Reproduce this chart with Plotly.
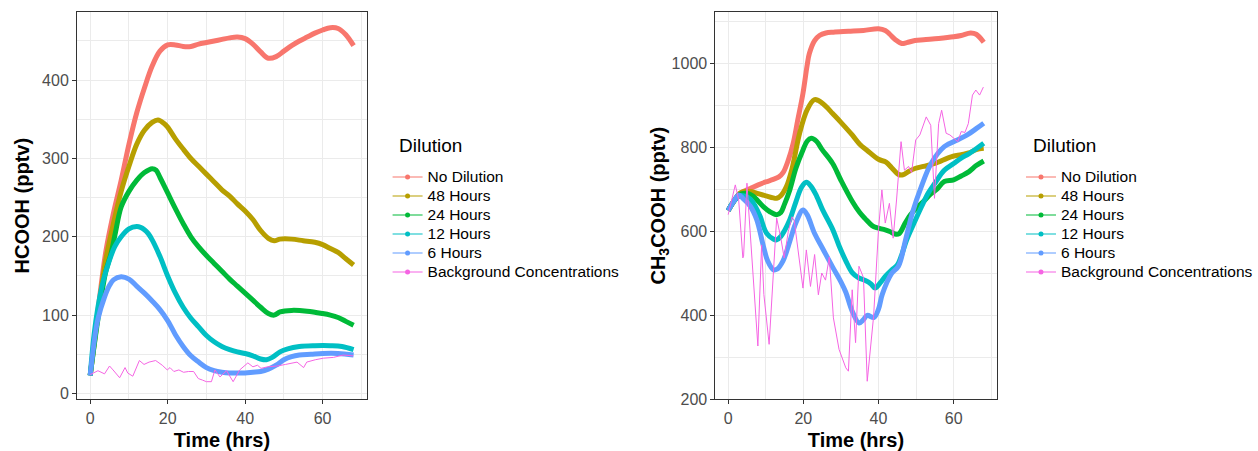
import plotly.graph_objects as go

# ---------------- DATA ----------------
SERIES = ["No Dilution", "48 Hours", "24 Hours", "12 Hours", "6 Hours", "Background Concentrations"]
COLORS = ["#F8766D", "#B79F00", "#00BA38", "#00BFC4", "#619CFF", "#F564E3"]
LEGEND_TITLE = "Dilution"

# HCOOH panel
hc_nodil_t = [0, 2, 4, 6, 8, 10, 12, 14, 16, 18, 20, 22, 24, 26, 28, 30, 32, 34, 36, 38, 40, 42, 44, 46, 48, 50, 52, 54, 56, 58, 60, 62, 64, 66, 68]
hc_nodil_v = [23, 105, 180, 230, 272, 318, 358, 390, 418, 437, 445, 445, 443, 443, 446, 448, 450, 452, 454, 455, 453, 446, 436, 428, 430, 437, 444, 450, 455, 460, 464, 467, 466, 458, 444]

hc_48_t = [0, 2, 4, 6, 8, 10, 12, 14, 16, 17.5, 19, 20, 22, 24, 26, 28, 30, 32, 34, 36, 38, 40, 42, 44, 46, 47.5, 49, 52, 55, 58, 60, 62, 64, 66, 68]
hc_48_v = [23, 100, 170, 217, 258, 290, 318, 336, 346, 349, 345, 340, 325, 312, 300, 290, 280, 270, 260, 252, 242, 233, 222, 208, 198, 195, 197, 197, 195, 193, 190, 185, 180, 172, 164]

hc_24_t = [0, 2, 4, 5.4, 6.5, 8, 10, 12, 14, 16, 17, 18, 20, 22, 24, 26, 28, 30, 32, 34, 36, 38, 40, 42, 44, 46, 47.5, 49, 52, 56, 60, 62, 64, 66, 68]
hc_24_v = [23, 95, 155, 179, 205, 238, 258, 272, 282, 287, 285, 276, 256, 236, 217, 200, 187, 176, 166, 156, 146, 137, 128, 119, 110, 102, 100, 104, 106, 105, 102, 100, 97, 92, 87]

hc_12_t = [0, 1, 2, 3, 4, 6.3, 8, 10, 12, 13, 14, 15, 16, 18, 20, 22, 24, 26, 28, 30, 32, 34, 36, 38, 40, 42, 44, 45.5, 47, 49, 51, 54, 58, 62, 65, 68]
hc_12_v = [23, 75, 110, 136, 155, 187, 200, 210, 213, 212, 209, 204, 196, 175, 150, 128, 110, 96, 85, 74, 66, 60, 56, 53, 51, 48, 44, 43, 46, 53, 57, 60, 61, 61, 60, 56]

hc_6_t = [0, 1.2, 2, 3.7, 5, 6, 8, 10, 12, 14, 16, 18, 20, 22, 24, 26, 28, 30, 32, 34, 36, 38, 40, 42, 44, 46, 48, 50, 52, 54, 57, 60, 64, 68]
hc_6_v = [23, 72, 95, 123, 138, 145, 149, 146, 137, 128, 118, 107, 93, 75, 60, 48, 40, 33, 29, 27, 26, 26, 26, 27, 28, 31, 36, 43, 47, 49, 50, 51, 51, 49]

hc_bg_t = [0, 2, 3.7, 5, 5.9, 7.6, 9, 9.7, 11, 12.7, 13.9, 15.2, 16.9, 18.6, 19.9, 20.6, 21.6, 22.9, 24.1, 25.4, 26.7, 27.9, 29, 30, 31.3, 32.2, 33.5, 35.2, 36.9, 38.6, 40.7, 42, 43.2, 44.1, 45.8, 48.3, 50.4, 53.4, 55.1, 55.9, 58.1, 60.2, 62.8, 65.3, 67.9]
hc_bg_v = [24, 29, 25, 35, 30, 20, 33, 26, 22, 42, 37, 40, 42, 36, 30, 33, 28, 30, 27, 28, 28, 19, 17, 15, 15, 30, 21, 29, 15, 30, 39, 34, 36, 32, 34, 35, 37, 40, 33, 40, 43, 45, 46, 49, 48]

# CH3COOH panel
ac_nodil_t = [0, 1.5, 3, 4.5, 6, 8, 10, 12, 13.5, 14.6, 16, 17.3, 18.5, 19.9, 21, 21.6, 23, 24.3, 26, 28, 32, 36, 40, 41.8, 43, 44.5, 46.2, 47.5, 49.7, 52, 56, 60, 62, 64.5, 66, 68]
ac_nodil_v = [650, 672, 690, 697, 703, 711, 718, 724, 730, 740, 770, 810, 865, 929, 995, 1024, 1055, 1067, 1073, 1075, 1077, 1079, 1083, 1079, 1070, 1057, 1048, 1050, 1055, 1057, 1060, 1064, 1067, 1073, 1070, 1051]

ac_48_t = [0, 1.5, 3, 4, 6, 8, 10, 12, 12.9, 14, 15.5, 17, 19, 21, 22.9, 24, 26, 27.8, 30, 33, 35, 37, 40, 42, 43.5, 45.3, 46.5, 48, 49.7, 52, 55, 59.3, 62, 64, 66, 68]
ac_48_v = [650, 672, 690, 695, 695, 690, 685, 680, 679, 685, 707, 750, 834, 890, 914, 912, 898, 881, 860, 830, 808, 793, 772, 765, 752, 736, 735, 743, 750, 755, 762, 778, 783, 787, 795, 798]

ac_24_t = [0, 1.5, 3, 5, 6.5, 8, 9.5, 11.1, 12.9, 14, 15, 16.4, 18, 19.9, 21, 22.1, 23.5, 25, 27.8, 30, 33, 35, 36.5, 38.3, 39.5, 41.8, 43, 44.4, 45.5, 47.1, 48.5, 50.5, 52, 54, 55.5, 57.5, 60, 62, 64, 66, 68]
ac_24_v = [650, 672, 688, 691, 685, 672, 658, 647, 640, 645, 665, 699, 750, 794, 815, 822, 815, 795, 762, 722, 672, 645, 630, 614, 609, 604, 600, 594, 595, 620, 640, 659, 672, 690, 700, 719, 723, 732, 742, 757, 768]

ac_12_t = [0, 1.5, 3, 4.5, 5.9, 7.2, 8.5, 10.2, 12, 12.9, 14, 15, 16.4, 18, 19.5, 20.8, 22, 23.5, 25.1, 27.8, 29.5, 31.3, 33, 34.8, 36.5, 38, 39.1, 40.5, 41.8, 43.5, 45, 46.2, 47.5, 49.7, 51.5, 53.2, 55, 57.5, 60, 62, 64, 66, 68]
ac_12_v = [650, 672, 685, 684, 677, 660, 636, 596, 582, 580, 588, 602, 628, 670, 705, 717, 708, 685, 652, 605, 566, 530, 502, 489, 483, 475, 465, 478, 493, 508, 520, 545, 580, 625, 660, 691, 715, 746, 762, 775, 785, 797, 810]

ac_6_t = [0, 1.5, 2.8, 4, 5.9, 7.6, 9.4, 10.5, 12, 13, 14.6, 16, 18, 19.9, 21, 23, 25.1, 27.8, 30, 31.3, 33, 34.8, 36, 37, 38.8, 40, 41, 43.5, 45.3, 47.2, 49, 51.4, 54, 57.5, 61, 63.6, 66, 68]
ac_6_v = [650, 672, 687, 678, 660, 628, 564, 530, 509, 510, 530, 565, 620, 651, 640, 595, 560, 515, 480, 455, 410, 382, 390, 400, 395, 415, 450, 500, 517, 580, 644, 707, 762, 802, 818, 830, 845, 858]

ac_bg_t = [0, 1.5, 1.9, 2.8, 3.9, 4.1, 5, 5.4, 6, 7, 7.9, 8.9, 9.5, 10.9, 12.9, 14, 14.9, 16, 17, 17.6, 19.9, 20.8, 21.9, 23, 24, 24.9, 25.9, 26.9, 28, 29.5, 31.3, 32, 33, 33.9, 34.8, 36, 37, 38.7, 40, 40.9, 41.8, 42.9, 43.9, 44.8, 46, 46.9, 48, 48.8, 49.9, 51, 52.7, 53.9, 54.9, 56, 56.8, 58, 59, 61.1, 62, 63, 63.9, 65, 65.9, 66.9, 67.9]
ac_bg_v = [640, 691, 711, 675, 537, 541, 715, 659, 580, 450, 327, 568, 450, 331, 632, 585, 537, 600, 635, 625, 465, 556, 469, 545, 449, 501, 484, 539, 394, 319, 275, 267, 461, 335, 517, 490, 243, 398, 604, 699, 620, 667, 584, 675, 814, 746, 755, 740, 818, 830, 873, 853, 679, 857, 889, 834, 830, 814, 838, 836, 857, 925, 937, 925, 944]

# tick labels
X_TICKS = [0, 20, 40, 60]
HC_Y_TICKS = [0, 100, 200, 300, 400]
AC_Y_TICKS = [200, 400, 600, 800, 1000]

hc_data = [(hc_nodil_t, hc_nodil_v), (hc_48_t, hc_48_v), (hc_24_t, hc_24_v),
           (hc_12_t, hc_12_v), (hc_6_t, hc_6_v), (hc_bg_t, hc_bg_v)]
ac_data = [(ac_nodil_t, ac_nodil_v), (ac_48_t, ac_48_v), (ac_24_t, ac_24_v),
           (ac_12_t, ac_12_v), (ac_6_t, ac_6_v), (ac_bg_t, ac_bg_v)]

# ---------------- FIGURE ----------------
FONT = "Liberation Sans, Arial, Helvetica, sans-serif"
W, H = 1258, 451
fig = go.Figure()

def add_panel(data, xa, ya, legend_name):
    for i, (name, (t, v)) in enumerate(zip(SERIES, data)):
        bg = (i == len(SERIES) - 1)
        fig.add_trace(go.Scatter(
            x=t, y=v, mode="lines", name=name, xaxis=xa, yaxis=ya,
            line=dict(color=COLORS[i], width=1 if bg else 5,
                      shape="linear" if bg else "spline", smoothing=1.0),
            showlegend=False, hoverinfo="skip"))
    # legend keys (no data marks)
    for i, name in enumerate(SERIES):
        fig.add_trace(go.Scatter(
            x=[None], y=[None], mode="lines+markers",
            name='<span style="font-size:15.5px">' + name + '</span>',
            xaxis=xa, yaxis=ya,
            line=dict(color=COLORS[i], width=1.2), marker=dict(color=COLORS[i], size=5),
            legend=legend_name, showlegend=True))

add_panel(hc_data, "x", "y", "legend")
add_panel(ac_data, "x2", "y2", "legend2")

grid_major = "#EBEBEB"
axis_common = dict(
    showline=True, mirror=True, linecolor="#333333", linewidth=1,
    ticks="outside", ticklen=4, tickcolor="#333333", tickwidth=1,
    showgrid=True, gridcolor=grid_major, gridwidth=1.4,
    zeroline=False, automargin=False,
    tickfont=dict(family=FONT, size=16, color="#4D4D4D"),
)

ydom = [(H - 399.3) / H, (H - 12) / H]
minor_x = dict(dtick=10, tick0=0, showgrid=True, gridcolor=grid_major, gridwidth=0.8, ticks="")

def legend_cfg(x):
    return dict(x=x / W, y=1 - 162.5 / H, xanchor="left", yanchor="top",
                font=dict(family=FONT, size=11.7, color="black"),
                bgcolor="rgba(0,0,0,0)", itemwidth=30, tracegroupgap=0)

title_annots = [
    dict(text=LEGEND_TITLE, x=xp / W, y=1 - 145 / H, xref="paper", yref="paper",
         xanchor="left", yanchor="middle", showarrow=False,
         font=dict(family=FONT, size=19, color="black"))
    for xp in (401, 1040)
]

fig.update_layout(
    width=W, height=H,
    margin=dict(l=0, r=0, t=0, b=0),
    paper_bgcolor="white", plot_bgcolor="white",
    font=dict(family=FONT),
    annotations=title_annots,
    xaxis=dict(axis_common, domain=[77.7 / W, 370 / W], range=[-3.4, 71.4],
               tickvals=X_TICKS, minor=minor_x,
               title=dict(text="<b>Time (hrs)</b>", font=dict(family=FONT, size=20, color="black"), standoff=7),
               anchor="y"),
    yaxis=dict(axis_common, domain=ydom, range=[-7.5, 487],
               tickvals=HC_Y_TICKS, minor=dict(dtick=50, tick0=0, showgrid=True, gridcolor=grid_major, gridwidth=0.8, ticks=""),
               title=dict(text="<b>HCOOH (pptv)</b>", font=dict(family=FONT, size=20, color="black"), standoff=7),
               anchor="x"),
    xaxis2=dict(axis_common, domain=[721.7 / W, 1005.3 / W], range=[-3.4, 71.4],
                tickvals=X_TICKS, minor=minor_x,
                title=dict(text="<b>Time (hrs)</b>", font=dict(family=FONT, size=20, color="black"), standoff=7),
                anchor="y2"),
    yaxis2=dict(axis_common, domain=ydom, range=[200, 1123],
                tickvals=AC_Y_TICKS, minor=dict(dtick=100, tick0=0, showgrid=True, gridcolor=grid_major, gridwidth=0.8, ticks=""),
                title=dict(text="<b>CH<sub>3</sub>COOH (pptv)</b>", font=dict(family=FONT, size=20, color="black"), standoff=0),
                anchor="x2"),
    legend=legend_cfg(391),
    legend2=legend_cfg(1030),
)

fig.write_html("out.html")
